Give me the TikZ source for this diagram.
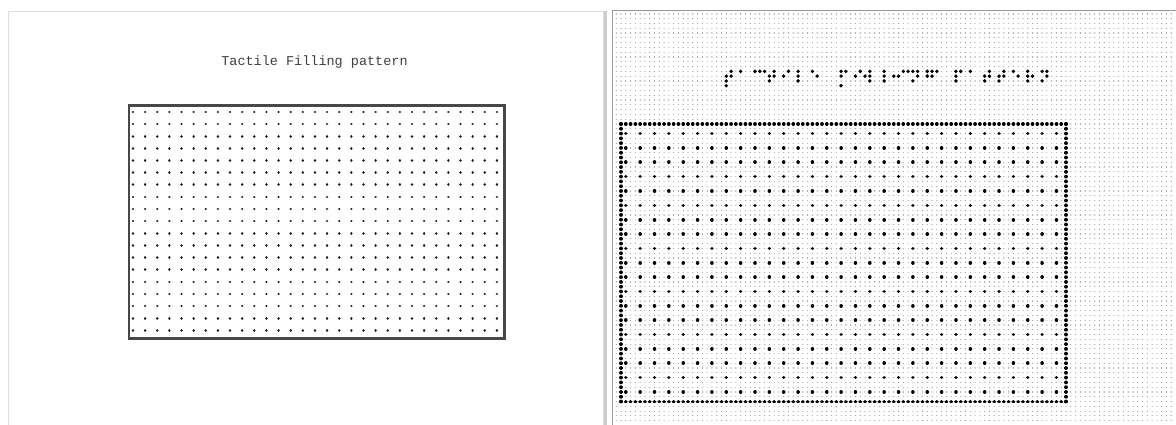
\documentclass[tikz,border=0pt]{standalone}
\usepackage{fontspec}
\newfontfamily\monof{Liberation Mono}
\begin{document}
\begin{tikzpicture}[x=1pt,y=-1pt]
\def\p{4.785}
\def\ox{621}
\def\oy{124}
\tikzset{
  bgdots/.style={line width=1.2pt, black!38, line cap=round, dash pattern=on 0.01pt off 4.775pt},
  bdots/.style={line width=3.8pt, black, line cap=round, dash pattern=on 0.01pt off 4.775pt},
  idots/.style={line width=3.6pt, black, line cap=round, dash pattern=on 0.01pt off 14.345pt},
  ldots/.style={line width=2.6pt, black!90, line cap=round, dash pattern=on 0.01pt off 12.12pt},
  panelL/.style={draw=black!13, line width=1.2pt},
  panelR/.style={draw=black!40, line width=1pt},
  frameL/.style={draw=black!72, line width=2.4pt},
  bdot/.style={fill=black},
}
\useasboundingbox (0,0) rectangle (1176,425);
\fill[white] (0,0) rectangle (1176,425);
% left panel
\draw[panelL] (8.5,11.5) rectangle (604,445);
\fill[black!20] (603.5,11) rectangle (607,425);
\node[font=\monof\fontsize{13.5}{16}\selectfont, text=black!75] (title) at (314.5,62) {Tactile Filling pattern};
\draw[frameL] (129.2,105.7) rectangle (504.5,338.5);
\foreach \j in {0,...,18}
  \draw[ldots] (133,{112+\j*12.13}) -- (497.6,{112+\j*12.13});
% right panel
\draw[panelR] (612.5,10.5) rectangle (1190,445);
\foreach \j in {-23,...,62}
  \draw[bgdots] ({\ox-\p},{\oy+\j*\p}) -- ({\ox+115.2*\p},{\oy+\j*\p});
% border of bold dots
\draw[bdots] (\ox,\oy) -- ({\ox+93.1*\p},\oy);
\draw[bdots] (\ox,{\oy+58*\p}) -- ({\ox+93.1*\p},{\oy+58*\p});
\draw[bdots] (\ox,\oy) -- (\ox,{\oy+58.1*\p});
\draw[bdots] ({\ox+93*\p},\oy) -- ({\ox+93*\p},{\oy+58.1*\p});
% filling pattern
\foreach \j in {2,5,...,56}
  \draw[idots] ({\ox+\p},{\oy+\j*\p}) -- ({\ox+91.1*\p},{\oy+\j*\p});
% braille title
\foreach \k/\r in {22/2,22/3,22/4,23/1,23/2, 25/1, 28/1,29/1,30/1,
  31/2,31/3,32/1,32/2, 34/2,35/1, 37/1,37/2,37/3, 40/1,41/2,
  46/1,46/2,46/4,47/1, 49/2,50/1,51/2, 52/1,52/2,52/3, 55/1,55/2,55/3,57/2,
  58/2,59/1,60/1, 61/1,61/3,62/1,62/2, 64/1,64/2,65/1,65/2,66/1,
  70/1,70/2,70/3,71/1, 73/1, 76/2,76/3,77/1,77/2, 79/2,79/3,80/1,80/2,
  82/1,83/2, 85/1,85/2,85/3,86/2, 88/1,88/3,89/1,89/2}
  \fill[bdot] ({\ox+\k*\p},{\oy+(\r-12)*\p}) circle (1.9pt);
\end{tikzpicture}
\end{document}
